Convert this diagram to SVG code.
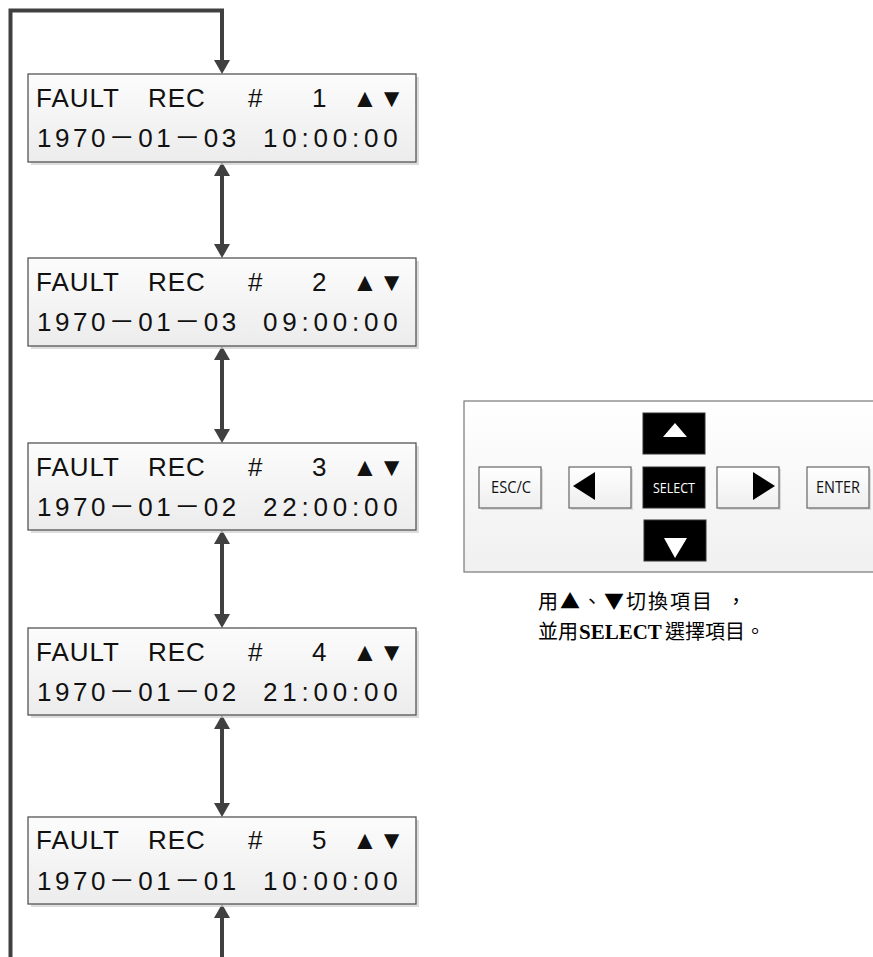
<svg xmlns="http://www.w3.org/2000/svg" width="873" height="957" viewBox="0 0 873 957">
<style>
.box{fill:url(#gBox);stroke:#555;stroke-width:1.3}
.shadow{fill:#cfcfcf;opacity:0.7}
.lcd{font-family:"Liberation Sans","Noto Sans CJK TC",sans-serif;font-size:26px;fill:#111}
.l1{letter-spacing:1px}
.dt{letter-spacing:3.5px}
.tm{letter-spacing:4.8px}
.conn{fill:none;stroke:#404040;stroke-width:4}
.btnL{fill:url(#gBtn);stroke:#666;stroke-width:1.2}
.btnD{fill:#000;stroke:#333;stroke-width:1}
.btxt{font-family:"Open Sans","Liberation Sans",sans-serif;font-size:16px;fill:#111;text-anchor:middle}
.cap{font-family:"Noto Sans CJK TC","Liberation Serif",serif;font-size:20px;fill:#000}
</style>
<defs>
<linearGradient id="gBox" x1="0" y1="0" x2="0" y2="1"><stop offset="0" stop-color="#fcfcfc"/><stop offset="1" stop-color="#ececec"/></linearGradient>
<linearGradient id="gBtn" x1="0" y1="0" x2="0" y2="1"><stop offset="0" stop-color="#ffffff"/><stop offset="1" stop-color="#eeeeee"/></linearGradient>
<linearGradient id="gPanel" x1="0" y1="0" x2="0" y2="1"><stop offset="0" stop-color="#ffffff"/><stop offset="1" stop-color="#f0f0f0"/></linearGradient>
<marker id="arr" viewBox="0 0 14 16" refX="0" refY="8" markerWidth="14" markerHeight="16" markerUnits="userSpaceOnUse" orient="auto-start-reverse"><path d="M0,0 L14,8 L0,16 z" fill="#404040"/></marker>
</defs>

<g id="connectors">
<path class="conn" d="M10.5,957 V10.5 H222 V60" marker-end="url(#arr)"/>
<path class="conn" d="M222,176 V244" marker-start="url(#arr)" marker-end="url(#arr)"/>
<path class="conn" d="M222,360 V429" marker-start="url(#arr)" marker-end="url(#arr)"/>
<path class="conn" d="M222,544 V614" marker-start="url(#arr)" marker-end="url(#arr)"/>
<path class="conn" d="M222,729 V803" marker-start="url(#arr)" marker-end="url(#arr)"/>
<path class="conn" d="M222,957 V918" marker-end="url(#arr)"/>
</g>

<g id="rec1">
<rect class="shadow" x="31" y="77" width="388" height="88"/>
<rect class="box" x="28" y="74" width="388" height="88"/>
<text class="lcd l1" y="107"><tspan x="36">FAULT</tspan><tspan x="148">REC</tspan><tspan x="248">#</tspan><tspan x="312">1</tspan><tspan x="352">▲▼</tspan></text>
<text class="lcd" y="147"><tspan class="dt" x="37">1970－01－03</tspan><tspan class="tm" x="263">10:00:00</tspan></text>
</g>

<g id="rec2">
<rect class="shadow" x="31" y="261" width="388" height="88"/>
<rect class="box" x="28" y="258" width="388" height="88"/>
<text class="lcd l1" y="291"><tspan x="36">FAULT</tspan><tspan x="148">REC</tspan><tspan x="248">#</tspan><tspan x="312">2</tspan><tspan x="352">▲▼</tspan></text>
<text class="lcd" y="331"><tspan class="dt" x="37">1970－01－03</tspan><tspan class="tm" x="263">09:00:00</tspan></text>
</g>

<g id="rec3">
<rect class="shadow" x="31" y="446" width="388" height="87"/>
<rect class="box" x="28" y="443" width="388" height="87"/>
<text class="lcd l1" y="476"><tspan x="36">FAULT</tspan><tspan x="148">REC</tspan><tspan x="248">#</tspan><tspan x="312">3</tspan><tspan x="352">▲▼</tspan></text>
<text class="lcd" y="516"><tspan class="dt" x="37">1970－01－02</tspan><tspan class="tm" x="263">22:00:00</tspan></text>
</g>

<g id="rec4">
<rect class="shadow" x="31" y="631" width="388" height="87"/>
<rect class="box" x="28" y="628" width="388" height="87"/>
<text class="lcd l1" y="661"><tspan x="36">FAULT</tspan><tspan x="148">REC</tspan><tspan x="248">#</tspan><tspan x="312">4</tspan><tspan x="352">▲▼</tspan></text>
<text class="lcd" y="701"><tspan class="dt" x="37">1970－01－02</tspan><tspan class="tm" x="263">21:00:00</tspan></text>
</g>

<g id="rec5">
<rect class="shadow" x="31" y="820" width="388" height="87"/>
<rect class="box" x="28" y="817" width="388" height="87"/>
<text class="lcd l1" y="849"><tspan x="36">FAULT</tspan><tspan x="148">REC</tspan><tspan x="248">#</tspan><tspan x="312">5</tspan><tspan x="352">▲▼</tspan></text>
<text class="lcd" y="890"><tspan class="dt" x="37">1970－01－01</tspan><tspan class="tm" x="263">10:00:00</tspan></text>
</g>

<g id="panel">
<rect x="464" y="401" width="420" height="171" fill="url(#gPanel)" stroke="#777" stroke-width="1.2"/>
<g id="btn-up">
<rect x="643" y="413" width="62" height="41" class="btnD"/>
<polygon points="675,423 687,437 663,437" fill="#fff"/>
</g>
<g id="btn-select">
<rect x="643" y="467" width="62" height="41" class="btnD"/>
<text x="674" y="493" class="btxt" style="fill:#fff;font-size:15px" textLength="42" lengthAdjust="spacingAndGlyphs">SELECT</text>
</g>
<g id="btn-down">
<rect x="644" y="520" width="62" height="41" class="btnD"/>
<polygon points="664,538 687,538 675,558" fill="#fff"/>
</g>
<g id="btn-left">
<rect x="571" y="469" width="62" height="41" class="shadow"/>
<rect x="569" y="467" width="62" height="41" class="btnL"/>
<polygon points="595,472 595,500 573,486" fill="#000"/>
</g>
<g id="btn-right">
<rect x="719" y="469" width="62" height="41" class="shadow"/>
<rect x="717" y="467" width="62" height="41" class="btnL"/>
<polygon points="753,472 753,500 775,486" fill="#000"/>
</g>
<g id="btn-esc">
<rect x="481" y="469" width="62" height="41" class="shadow"/>
<rect x="479" y="467" width="62" height="41" class="btnL"/>
<text x="511" y="493" class="btxt" textLength="40" lengthAdjust="spacingAndGlyphs">ESC/C</text>
</g>
<g id="btn-enter">
<rect x="809" y="469" width="62" height="41" class="shadow"/>
<rect x="807" y="467" width="62" height="41" class="btnL"/>
<text x="838" y="493" class="btxt" textLength="44" lengthAdjust="spacingAndGlyphs">ENTER</text>
</g>
</g>

<g id="caption">
<text class="cap" y="609"><tspan x="538" style="letter-spacing:2px">用▲、▼切換項目</tspan><tspan x="726">，</tspan></text>
<text class="cap" y="639"><tspan x="538">並用</tspan><tspan x="579" style="font-family:'Liberation Serif',serif;font-weight:bold;font-size:21px">SELECT</tspan><tspan x="665">選擇項目。</tspan></text>
</g>
</svg>
